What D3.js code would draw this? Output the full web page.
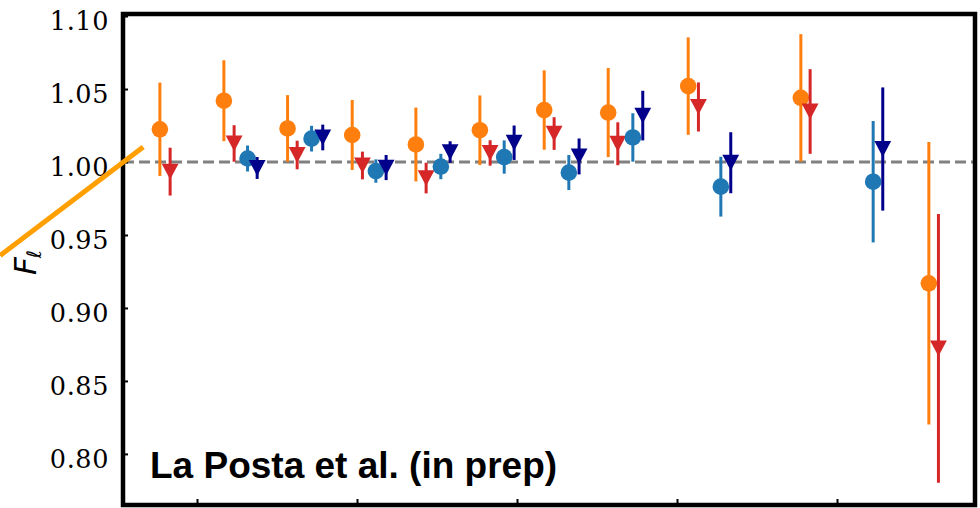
<!DOCTYPE html>
<html lang="en">
<meta charset="utf-8">
<style>
  body{ margin:0; background:#fff }
  .tick text{ font-family:'DejaVu Serif', serif; font-size:25.5px; letter-spacing:0.6px; fill:#000 }
  .note{ font-family:'Liberation Sans', Arial, sans-serif; font-weight:bold; font-size:37px }
  .ylab{ font-family:'DejaVu Sans', sans-serif; font-style:italic; font-size:31px }
</style>
<body>
<script src="https://cdn.jsdelivr.net/npm/d3@7"></script>
<script>

  // multipole bin centres (arbitrary l units) and ratios
  var xTicks = [500, 1000, 1500, 2000, 2500]
  var yTicks = [0.80, 0.85, 0.90, 0.95, 1.00, 1.05, 1.10]

  var orangeX = [384, 584, 783, 985, 1184, 1384, 1585, 1785, 2035, 2387, 2787]
  var orangeY = [1.0224, 1.042, 1.023, 1.0185, 1.012, 1.0218, 1.0356, 1.0339, 1.052, 1.044, 0.9169]
  var orangeE = [0.032, 0.0277, 0.0228, 0.024, 0.0253, 0.0238, 0.0272, 0.0305, 0.0334, 0.0436, 0.0968]

  var redX = [416, 616, 813, 1017, 1216, 1416, 1616, 1815, 2067, 2416, 2817]
  var redY = [0.9934, 1.0127, 1.0048, 0.9976, 0.989, 1.0062, 1.0195, 1.0125, 1.0377, 1.0346, 0.8723]
  var redE = [0.0164, 0.0125, 0.0098, 0.0095, 0.0105, 0.0087, 0.0112, 0.0147, 0.0168, 0.029, 0.0921]

  var blueX = [658, 858, 1059, 1262, 1460, 1662, 1862, 2137, 2613]
  var blueY = [1.0024, 1.016, 0.9938, 0.9969, 1.0034, 0.9928, 1.0168, 0.9831, 0.9865]
  var blueE = [0.0089, 0.0088, 0.008, 0.0087, 0.0114, 0.012, 0.0166, 0.0205, 0.0416]

  var navyX = [688, 893, 1091, 1291, 1491, 1694, 1893, 2168, 2643]
  var navyY = [0.9959, 1.0168, 0.9962, 1.0068, 1.0132, 1.0038, 1.0318, 0.9995, 1.0089]
  var navyE = [0.0075, 0.0088, 0.0086, 0.0074, 0.0118, 0.0123, 0.017, 0.0209, 0.0422]

  // the orange pointer stroke on the left, in data units
  var pointer = [[-115, 0.936], [332, 1.0103]]

  var series = [
    {x: orangeX, y: orangeY, e: orangeE, color: '#ff7f0e', marker: 'o'},
    {x: redX, y: redY, e: redE, color: '#d62728', marker: 'v'},
    {x: blueX, y: blueY, e: blueE, color: '#1f77b4', marker: 'o'},
    {x: navyX, y: navyY, e: navyE, color: '#00008b', marker: 'v'}
  ]

  var W = 980, H = 508
  var axL = 123, axR = 975, axT = 14, axB = 505

  var svg = d3.select('body').append('svg').attr('width', W).attr('height', H)

  var x = d3.scaleLinear().domain([500, 2500]).range([197, 837])
  x.domain([x.invert(axL), x.invert(axR)]).range([axL, axR])
  var y = d3.scaleLinear().domain([0.765, 1.1014]).range([axB, axT])

  svg.append('defs').append('clipPath').attr('id', 'clip')
    .append('rect').attr('x', axL).attr('y', axT).attr('width', axR - axL).attr('height', axB - axT)

  var plot = svg.append('g').attr('clip-path', 'url(#clip)')

  // reference line at 1
  plot.append('line')
    .attr('x1', axL).attr('x2', axR)
    .attr('y1', y(1)).attr('y2', y(1))
    .attr('stroke', '#808080').attr('stroke-width', 3.2)
    .attr('stroke-dasharray', '11,5')

  function tri(s){
    return 'M' + (-s) + ',' + (-s * 0.94) + 'L' + s + ',' + (-s * 0.94) + 'L0,' + (s * 0.94) + 'Z'
  }

  series.forEach(function(s){
    var pts = s.x.map(function(v, i){ return {x: v, y: s.y[i], e: s.e[i]} })
    var g = plot.append('g')
    g.selectAll('line').data(pts).enter().append('line')
      .attr('x1', d => x(d.x)).attr('x2', d => x(d.x))
      .attr('y1', d => y(d.y - d.e)).attr('y2', d => y(d.y + d.e))
      .attr('stroke', s.color).attr('stroke-width', 3)
    if (s.marker === 'o') {
      g.selectAll('circle').data(pts).enter().append('circle')
        .attr('cx', d => x(d.x)).attr('cy', d => y(d.y)).attr('r', 8.3)
        .attr('fill', s.color)
    } else {
      g.selectAll('path').data(pts).enter().append('path')
        .attr('d', tri(8.4))
        .attr('transform', d => 'translate(' + x(d.x) + ',' + y(d.y) + ')')
        .attr('fill', s.color)
    }
  })

  // axes, ticks inward
  var yAxis = d3.axisLeft(y).tickValues(yTicks).tickSize(-5).tickPadding(14).tickFormat(d3.format('.2f'))
  var gy = svg.append('g').attr('transform', 'translate(' + axL + ',0)').call(yAxis)
  gy.select('.domain').remove()
  gy.selectAll('.tick line').attr('stroke', '#000').attr('stroke-width', 2)
  gy.selectAll('.tick text').attr('dy', '0.52em')

  var xAxis = d3.axisBottom(x).tickValues(xTicks).tickSize(-6).tickFormat('')
  var gx = svg.append('g').attr('transform', 'translate(0,' + axB + ')').call(xAxis)
  gx.select('.domain').remove()
  gx.selectAll('.tick line').attr('stroke', '#000').attr('stroke-width', 2)

  svg.append('rect')
    .attr('x', axL).attr('y', axT).attr('width', axR - axL).attr('height', axB - axT)
    .attr('fill', 'none').attr('stroke', '#000').attr('stroke-width', 4.5)

  svg.append('text').attr('class', 'note').attr('x', 150).attr('y', 478).text('La Posta et al. (in prep)')

  var yl = svg.append('text').attr('class', 'ylab')
    .attr('transform', 'translate(36,275) rotate(-90)')
  yl.append('tspan').text('F')
  yl.append('tspan').attr('font-size', '20px').attr('dy', 5).attr('dx', -1).text('ℓ')

  svg.append('path')
    .attr('d', d3.line().x(d => x(d[0])).y(d => y(d[1]))(pointer))
    .attr('stroke', '#ff9f00').attr('stroke-width', 5).attr('fill', 'none')

</script>
</body>
</html>
